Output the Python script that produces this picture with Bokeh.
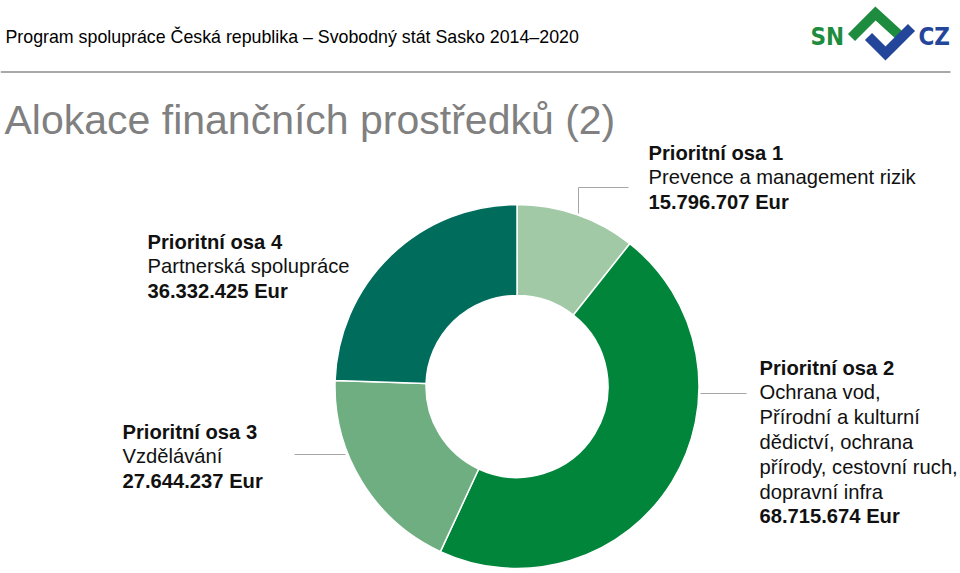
import numpy as np
from bokeh.plotting import figure
from bokeh.models import Range1d, ColumnDataSource
from bokeh.core.properties import value
from bokeh.embed import file_html
from bokeh.resources import INLINE

# ---- data ----
axes_names = ["Prioritní osa 1", "Prioritní osa 2", "Prioritní osa 3", "Prioritní osa 4"]
descriptions = [
    ["Prevence a management rizik"],
    ["Ochrana vod,", "Přírodní a kulturní", "dědictví, ochrana", "přírody, cestovní ruch,", "dopravní infra"],
    ["Vzdělávání"],
    ["Partnerská spolupráce"],
]
amounts = [15796707, 68715674, 27644237, 36332425]
colors = ["#a1c9a5", "#00853a", "#6fae80", "#006c5c"]

header = "Program spolupráce Česká republika – Svobodný stát Sasko 2014–2020"
title = "Alokace finančních prostředků (2)"

W, H = 960, 573
FONT = value("Liberation Sans")

def Y(py):
    return H - py

p = figure(width=W, height=H, output_backend="svg", toolbar_location=None,
           x_range=Range1d(0, W), y_range=Range1d(0, H), min_border=0,
           background_fill_color="white", border_fill_color="white")
p.axis.visible = False
p.grid.visible = False
p.outline_line_color = None

# ---- donut ----
vals = np.array(amounts, dtype=float)
frac = vals / vals.sum()
cum = np.concatenate([[0.0], np.cumsum(frac)])
start = np.pi / 2 - cum[:-1] * 2 * np.pi
end = np.pi / 2 - cum[1:] * 2 * np.pi
cx, cy = 516.5, Y(386)
src = ColumnDataSource(dict(start=start, end=end, color=colors,
                            x=[cx] * 4, y=[cy] * 4))
p.annular_wedge(x="x", y="y", inner_radius=91, outer_radius=182,
                start_angle="start", end_angle="end", direction="clock",
                fill_color="color", line_color="white", line_width=1.5, source=src)

# ---- leader lines ----
lc = "#a6a6a6"
p.line([578, 578, 628], [Y(213), Y(187), Y(187)], line_color=lc, line_width=1)
p.line([700, 746], [Y(393), Y(393)], line_color=lc, line_width=1)
p.line([294, 345], [Y(454), Y(454)], line_color=lc, line_width=1)

# ---- labels ----
fmt = lambda v: f"{v:,}".replace(",", ".") + " Eur"
label_pos = [(648, 152), (759, 367), (122, 431), (147, 241)]
step = 24.8
for i in range(4):
    x0, py0 = label_pos[i]
    lines = [(axes_names[i], "bold")] + [(d, "normal") for d in descriptions[i]] + [(fmt(amounts[i]), "bold")]
    for k, (t, st) in enumerate(lines):
        p.text(x=[x0], y=[Y(py0 + k * step)], text=[t], text_font=FONT,
               text_font_size="20.2px", text_font_style=st, text_color="#111111",
               text_baseline="middle", text_align="left")

# ---- header ----
p.text(x=[5], y=[Y(36)], text=[header], text_font=FONT, text_font_size="17.8px",
       text_color="#000000", text_baseline="middle")
p.line([0, 950], [Y(71.5), Y(71.5)], line_color="#8c8c8c", line_width=1.5)
p.text(x=[4], y=[Y(119)], text=[title], text_font=FONT, text_font_size="41px",
       text_color="#808080", text_baseline="middle")

# ---- logo ----
LOGOFONT = value("DejaVu Sans Condensed")
p.text(x=[810], y=[Y(36)], text=["SN"], text_font=LOGOFONT,
       text_font_size="24px", text_font_style="bold", text_color="#1e8c3e",
       text_baseline="middle")
p.text(x=[918], y=[Y(36)], text=["CZ"], text_font=LOGOFONT,
       text_font_size="24px", text_font_style="bold", text_color="#24469a",
       text_baseline="middle")
p.line([851, 875, 898], [Y(37), Y(13), Y(34)], line_color="#1e8c3e", line_width=10,
       line_join="miter")
p.line([868, 885, 911], [Y(36), Y(53), Y(27)], line_color="#24469a", line_width=10,
       line_join="miter")

open("out.html", "w").write(file_html(p, INLINE))
